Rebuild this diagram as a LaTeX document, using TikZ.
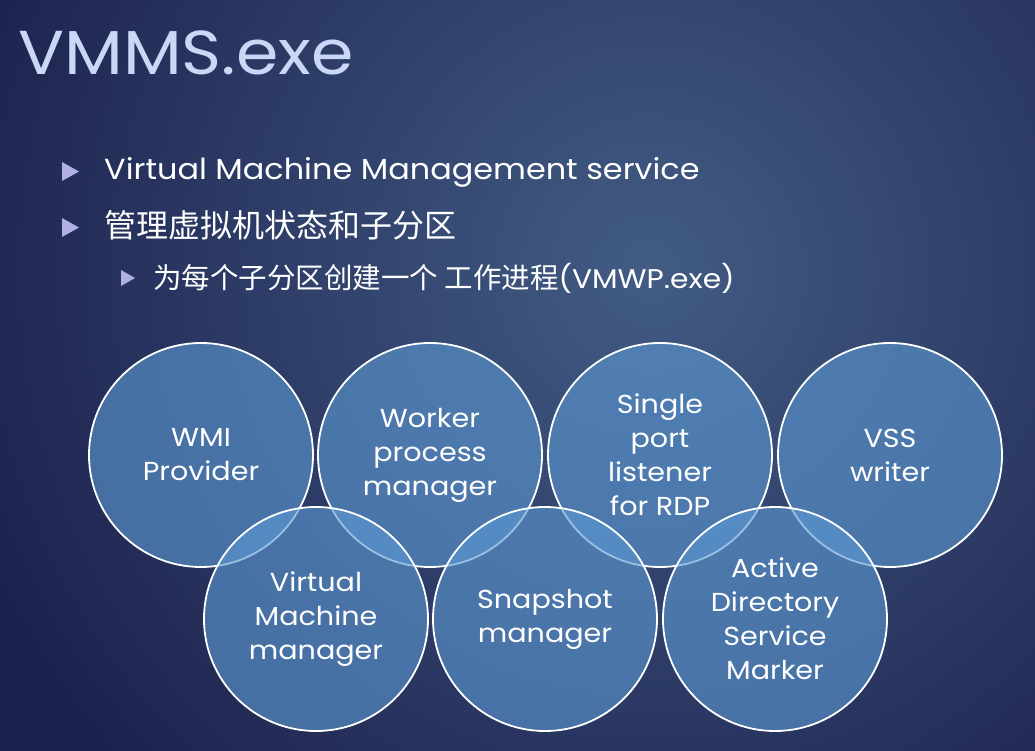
\documentclass[tikz,border=0pt]{standalone}
\usepackage{fontspec}
\setmainfont{Poppins}[FakeStretch=1.1]
\newfontfamily\cjk{Noto Sans CJK SC}
\begin{document}
\definecolor{bgdark}{RGB}{28,34,78}
\definecolor{bglight}{RGB}{66,92,132}
\definecolor{titlecol}{RGB}{200,216,246}
\definecolor{bulletcol}{RGB}{176,176,228}
\definecolor{ringfill}{RGB}{92,152,210}
\begin{tikzpicture}[x=1pt,y=-1pt,
  bullettri/.style={fill=bulletcol,draw=none},
  bodytext/.style={anchor=base west,text=white,inner sep=0pt},
  ring/.style={circle,minimum size=224pt,inner sep=0pt,draw=white,line width=1.8pt,
    fill=ringfill,fill opacity=0.62,text opacity=1,text=white,align=center,
    font=\fontsize{26}{34}\selectfont}]
% backdrop with a soft glow right of centre
\fill[bgdark] (0,0) rectangle (1035,751);
\begin{scope}
  \clip (0,0) rectangle (1035,751);
  \shade[inner color=bglight,outer color=bgdark] (650,270) circle (720);
\end{scope}
\useasboundingbox (0,0) rectangle (1035,751);

% title
\node[anchor=base west,inner sep=0pt,text=titlecol,font=\fontsize{62}{70}\selectfont] (title) at (18,75) {VMMS.exe};

% bullet list
\fill[bullettri] (62,162) -- (79,171.5) -- (62,181) -- cycle;
\node[bodytext,font=\fontsize{29}{34}\selectfont] (b1) at (104,180) {Virtual Machine Management service};
\fill[bullettri] (62,218) -- (79,227.5) -- (62,237) -- cycle;
\node[bodytext,font=\fontsize{32}{38}\cjk] (b2) at (104,238) {管理虚拟机状态和子分区};
\fill[bullettri] (121,270) -- (135,278) -- (121,286) -- cycle;
\node[bodytext,font=\fontsize{27}{32}\selectfont] (b3) at (153,288) {{\cjk\fontsize{28.5}{32}\selectfont 为每个子分区创建一个 工作进程}(VMWP.exe)};

% components
\node[ring] (wmi)  at (201,455) {WMI\\Provider};
\node[ring] (wpm)  at (430,455) {Worker\\process\\manager};
\node[ring] (rdp)  at (660,455) {Single\\port\\listener\\for RDP};
\node[ring] (vss)  at (890,455) {VSS\\writer};
\node[ring] (vmm)  at (316,619) {Virtual\\Machine\\manager};
\node[ring] (snap) at (545,619) {Snapshot\\manager};
\node[ring] (ads)  at (775,619) {Active\\Directory\\Service\\Marker};
\end{tikzpicture}
\end{document}
